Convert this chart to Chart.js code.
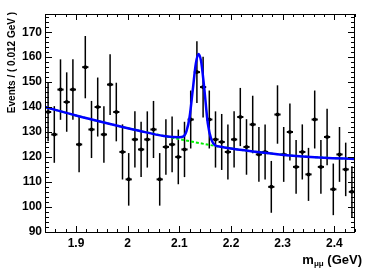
<!DOCTYPE html>
<html>
<head>
<meta charset="utf-8">
<script src="https://cdn.jsdelivr.net/npm/chart.js@4/dist/chart.umd.min.js"></script>
<style>
  body { margin: 0; background: #fff; }
  #wrap { width: 374px; height: 268px; position: relative; }
</style>
</head>
<body>
<div id="wrap"><canvas id="c"></canvas></div>
<script>
// bin centers (GeV), bin width 0.012
const binCenters = [1.846, 1.858, 1.870, 1.882, 1.894, 1.906, 1.918, 1.930, 1.942, 1.954,
    1.966, 1.978, 1.990, 2.002, 2.014, 2.026, 2.038, 2.050, 2.062, 2.074,
    2.086, 2.098, 2.110, 2.122, 2.134, 2.146, 2.158, 2.170, 2.182, 2.194,
    2.206, 2.218, 2.230, 2.242, 2.254, 2.266, 2.278, 2.290, 2.302, 2.314,
    2.326, 2.338, 2.350, 2.362, 2.374, 2.386, 2.398, 2.410, 2.422, 2.434];
const binWidth = 0.012;

// events per bin
const events = [138, 129, 147, 142, 147, 125, 156, 131, 140, 129,
    149, 138, 122, 111, 127, 123, 127, 131, 111, 124,
    125, 120, 123, 135, 154, 148, 135, 127, 126, 122,
    127, 136, 124, 133, 121, 122, 108, 137, 121, 130,
    116, 122, 113, 135, 116, 128, 107, 121, 115, 106];

// full fit (blue)
const fitX = [1.84, 1.90, 1.96, 2.02, 2.07, 2.10, 2.108, 2.114, 2.120, 2.126, 2.132, 2.137,
    2.142, 2.148, 2.155, 2.162, 2.170, 2.18, 2.20, 2.26, 2.32, 2.38, 2.44];
const fitY = [140.0, 136.6, 133.5, 130.6, 128.4, 127.9, 128.2, 130.4, 136.2, 146.9, 157.5, 161.3,
    158.5, 148.0, 133.6, 126.9, 124.6, 124.1, 123.4, 121.8, 120.5, 119.7, 119.2];

// background only (green dashed)
const bkgX = [1.84, 1.90, 1.96, 2.02, 2.08, 2.14, 2.20, 2.26, 2.32, 2.38, 2.44];
const bkgY = [140.0, 136.6, 133.5, 130.6, 128.0, 125.5, 123.4, 121.8, 120.5, 119.7, 119.2];

// axis labels
const xTicks = [1.9, 2.0, 2.1, 2.2, 2.3, 2.4];
const yTicks = [90, 100, 110, 120, 130, 140, 150, 160, 170];

const xMin = 1.84, xMax = 2.44;
const yMin = 89.9, yMax = 177.3;

const FONT = '"Liberation Sans", Arial, Helvetica, sans-serif';

// error bars, ROOT style frame ticks and axis titles
const rootStyle = {
    id: 'rootStyle',
    beforeDatasetsDraw(chart) {
        const ctx = chart.ctx;
        const xs = chart.scales.x, ys = chart.scales.y;
        ctx.save();
        ctx.strokeStyle = '#000';
        events.forEach((n, i) => {
            const err = Math.sqrt(n);
            const px = xs.getPixelForValue(binCenters[i]);
            const py = ys.getPixelForValue(n);
            ctx.lineWidth = 1.5;
            ctx.beginPath();
            ctx.moveTo(px, ys.getPixelForValue(n + err));
            ctx.lineTo(px, ys.getPixelForValue(n - err));
            ctx.stroke();
            ctx.lineWidth = 2;
            ctx.beginPath();
            ctx.moveTo(xs.getPixelForValue(binCenters[i] - binWidth / 2), py);
            ctx.lineTo(xs.getPixelForValue(binCenters[i] + binWidth / 2), py);
            ctx.stroke();
        });
        ctx.restore();
    },
    afterDraw(chart) {
        const ctx = chart.ctx;
        const a = chart.chartArea;
        const xs = chart.scales.x, ys = chart.scales.y;
        ctx.save();
        ctx.strokeStyle = '#000';
        ctx.lineWidth = 1;
        ctx.strokeRect(a.left + 0.5, a.top + 0.5, a.right - a.left - 1, a.bottom - a.top);

        // x ticks, top and bottom
        for (let k = 0; k <= 30; k++) {
            const v = 1.84 + k * 0.02;
            if (v > xMax + 1e-9) break;
            const major = Math.abs(v * 10 - Math.round(v * 10)) < 1e-6;
            const len = major ? 6 : 3;
            const px = Math.round(xs.getPixelForValue(v)) + 0.5;
            ctx.beginPath();
            ctx.moveTo(px, a.bottom); ctx.lineTo(px, a.bottom - len);
            ctx.moveTo(px, a.top); ctx.lineTo(px, a.top + len);
            ctx.stroke();
        }
        // y ticks, left and right
        for (let v = 90; v <= yMax; v += 2) {
            const major = v % 10 === 0;
            const len = major ? 7 : 4;
            const py = Math.round(ys.getPixelForValue(v)) + 0.5;
            ctx.beginPath();
            ctx.moveTo(a.left, py); ctx.lineTo(a.left + len, py);
            ctx.moveTo(a.right, py); ctx.lineTo(a.right - len, py);
            ctx.stroke();
        }

        // y title
        ctx.fillStyle = '#000';
        ctx.font = 'bold 10px ' + FONT;
        ctx.save();
        ctx.translate(12, 12);
        ctx.rotate(-Math.PI / 2);
        ctx.textAlign = 'right';
        ctx.textBaseline = 'middle';
        ctx.fillText('Events / ( 0.012 GeV )', 0, 0);
        ctx.restore();

        // x title with subscript
        const base = 264;
        const p1 = 'm', p2 = 'μμ', p3 = ' (GeV)';
        ctx.textAlign = 'left';
        ctx.textBaseline = 'alphabetic';
        ctx.font = 'bold 13px ' + FONT;
        const w1 = ctx.measureText(p1).width, w3 = ctx.measureText(p3).width;
        ctx.font = 'bold 8px ' + FONT;
        const w2 = ctx.measureText(p2).width;
        let x0 = 362 - (w1 + w2 + w3);
        ctx.font = 'bold 13px ' + FONT;
        ctx.fillText(p1, x0, base);
        ctx.font = 'bold 8px ' + FONT;
        ctx.fillText(p2, x0 + w1, base + 2);
        ctx.font = 'bold 13px ' + FONT;
        ctx.fillText(p3, x0 + w1 + w2, base);
        ctx.restore();
    }
};

new Chart(document.getElementById('c'), {
    type: 'scatter',
    data: {
        datasets: [{
            label: 'fit',
            type: 'line',
            data: fitX.map((x, i) => ({ x: x, y: fitY[i] })),
            borderColor: '#0000ff',
            borderWidth: 2.5,
            pointRadius: 0,
            fill: false,
            cubicInterpolationMode: 'monotone',
            order: 1
        }, {
            label: 'background',
            type: 'line',
            data: bkgX.map((x, i) => ({ x: x, y: bkgY[i] })),
            borderColor: '#00ee00',
            borderWidth: 2,
            borderDash: [3, 2],
            pointRadius: 0,
            fill: false,
            cubicInterpolationMode: 'monotone',
            order: 2
        }, {
            label: 'data',
            data: binCenters.map((x, i) => ({ x: x, y: events[i] })),
            backgroundColor: '#000',
            borderColor: '#000',
            pointRadius: 2,
            borderWidth: 0,
            order: 3
        }]
    },
    options: {
        responsive: true,
        maintainAspectRatio: false,
        animation: false,
        layout: { padding: { top: 14, right: 19, left: 0, bottom: 0 } },
        plugins: {
            legend: { display: false },
            tooltip: { enabled: false }
        },
        scales: {
            x: {
                type: 'linear',
                min: xMin,
                max: xMax,
                grid: { display: false, drawTicks: false },
                border: { display: false },
                ticks: {
                    padding: 4,
                    maxRotation: 0,
                    autoSkip: false,
                    color: '#000',
                    font: { family: FONT, size: 12, weight: 'bold' },
                    callback: v => String(+v.toFixed(1))
                },
                afterBuildTicks: s => { s.ticks = xTicks.map(v => ({ value: v })); },
                afterFit: s => { s.height = 36; }
            },
            y: {
                min: yMin,
                max: yMax,
                grid: { display: false, drawTicks: false },
                border: { display: false },
                ticks: {
                    padding: 3,
                    autoSkip: false,
                    color: '#000',
                    font: { family: FONT, size: 12, weight: 'bold' }
                },
                afterBuildTicks: s => { s.ticks = yTicks.map(v => ({ value: v })); },
                afterFit: s => { s.width = 45; }
            }
        }
    },
    plugins: [rootStyle]
});
</script>
</body>
</html>
